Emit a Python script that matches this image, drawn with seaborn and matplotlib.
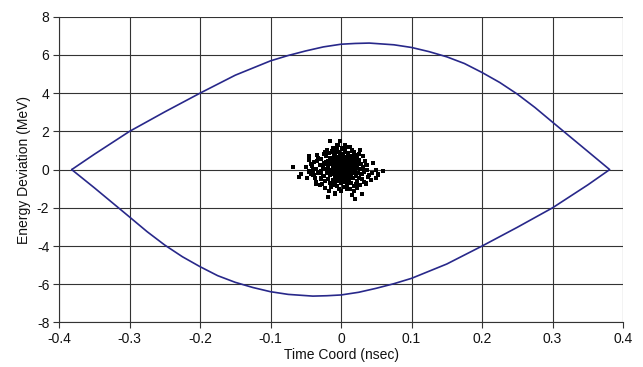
import numpy as np
import pandas as pd
import matplotlib
matplotlib.use("Agg")
import matplotlib.pyplot as plt
import seaborn as sns

# Separatrix (upper branch, left -> right)
top_t = [-0.382, -0.35, -0.3, -0.25, -0.2, -0.15, -0.1, -0.075, -0.05, -0.025, 0.0,
         0.02, 0.04, 0.075, 0.1, 0.125, 0.15, 0.175, 0.2, 0.225, 0.25, 0.275, 0.3, 0.35, 0.381]
top_E = [0.0, 0.8, 2.0, 3.02, 4.0, 4.94, 5.69, 5.97, 6.21, 6.42, 6.56,
         6.6, 6.62, 6.53, 6.39, 6.17, 5.9, 5.55, 5.08, 4.56, 3.95, 3.25, 2.48, 0.95, 0.0]
# Separatrix (lower branch, left -> right)
bot_t = [-0.382, -0.35, -0.3, -0.275, -0.25, -0.225, -0.2, -0.175, -0.15, -0.125, -0.1,
         -0.075, -0.04, -0.02, 0.0, 0.025, 0.05, 0.075, 0.1, 0.15, 0.2, 0.25, 0.3, 0.35, 0.381]
bot_E = [0.0, -0.95, -2.48, -3.25, -3.95, -4.56, -5.08, -5.55, -5.9, -6.17, -6.39,
         -6.53, -6.62, -6.6, -6.56, -6.42, -6.21, -5.97, -5.69, -4.94, -4.0, -3.02, -2.0, -0.8, 0.0]

# Particle bunch (time nsec, energy MeV)
part_t = [-0.068, -0.057, -0.050, -0.048, -0.046, -0.046, -0.039, -0.036, -0.034, -0.034,
          -0.030, -0.028, -0.023, -0.022, -0.019, -0.017, -0.016, -0.011, -0.010, -0.002,
          0.006, 0.018, 0.027, 0.031, 0.037, 0.044, 0.053, 0.060, 0.049, 0.040,
          0.032, 0.027, 0.023, 0.018, 0.030, 0.016, 0.020, 0.042, 0.035, -0.036,
          0.012, -0.005, 0.000, -0.008, 0.008, -0.042, 0.045, 0.050, -0.045, -0.060,
          -0.028, -0.026, -0.025, -0.024, -0.023, -0.022, -0.021, -0.020, -0.019, -0.018,
          -0.018, -0.017, -0.016, -0.016, -0.015, -0.015, -0.014, -0.013, -0.013, -0.012,
          -0.012, -0.011, -0.011, -0.010, -0.010, -0.009, -0.009, -0.008, -0.008, -0.008,
          -0.007, -0.007, -0.006, -0.006, -0.006, -0.005, -0.005, -0.005, -0.004, -0.004,
          -0.003, -0.003, -0.003, -0.002, -0.002, -0.002, -0.001, -0.001, -0.001, 0.000,
          0.000, 0.000, 0.001, 0.001, 0.001, 0.002, 0.002, 0.002, 0.003, 0.003,
          0.003, 0.004, 0.004, 0.004, 0.005, 0.005, 0.005, 0.006, 0.006, 0.006,
          0.007, 0.007, 0.008, 0.008, 0.008, 0.009, 0.009, 0.010, 0.010, 0.011,
          0.011, 0.012, 0.012, 0.013, 0.013, 0.014, 0.014, 0.015, 0.015, 0.016,
          0.016, 0.017, 0.018, 0.018, 0.019, 0.019, 0.020, 0.021, 0.021, 0.022,
          0.023, 0.023, 0.024, 0.025, 0.026, 0.027, 0.028, 0.029, 0.030, 0.031,
          0.033, 0.034, -0.030, -0.032, -0.033, -0.035, -0.037, -0.038, -0.040, -0.041,
          -0.043, -0.029, -0.027, -0.024, -0.020, -0.014, -0.003, 0.009, 0.013, 0.022,
          0.026, 0.036, 0.038, -0.014, -0.012, -0.010, -0.009, -0.007, -0.006, -0.004,
          -0.003, -0.002, -0.001, 0.000, 0.001, 0.002, 0.003, 0.004, 0.005, 0.006,
          0.007, 0.008, 0.009, 0.010, 0.011, 0.012, 0.013, 0.014, 0.015, -0.016,
          -0.011, -0.005, 0.000, 0.004, 0.010, 0.016, -0.019, -0.008, 0.002, 0.017,
          0.020, -0.021, 0.024]
part_E = [0.14, -0.21, 0.14, -0.44, 0.71, 0.49, -0.30, -0.65, 0.75, 0.45,
          -0.82, -0.47, -0.96, 0.89, -1.43, -1.14, 1.48, 1.10, -0.82, 1.50,
          1.27, 0.92, 1.01, 0.71, 0.00, -0.16, -0.26, -0.09, 0.00, -0.30,
          -0.65, -0.82, -0.96, -1.14, -1.26, -1.35, -1.52, -0.56, -0.73, -0.73,
          1.20, 1.30, -1.10, -1.25, -1.00, 0.30, 0.35, -0.45, -0.10, -0.40,
          0.55, 0.10, -0.35, 0.32, -0.60, 0.05, 0.70, -0.15, 0.45, -0.48,
          0.20, 0.85, -0.30, 0.00, 0.60, -0.72, 0.30, -0.10, 0.95, -0.55,
          0.15, 0.50, -0.25, 0.72, -0.05, 0.35, -0.40, 0.10, 0.85, -0.65,
          0.55, -0.18, 0.25, 1.05, -0.85, -0.02, 0.65, -0.45, 0.40, -0.28,
          0.12, 0.90, -0.60, 0.50, -0.10, 0.28, -0.35, 0.75, 0.05, -0.70,
          0.38, -0.20, 0.60, 0.15, -0.50, 1.10, -0.05, 0.45, -0.30, 0.22,
          0.80, -0.90, 0.02, 0.55, -0.42, 0.32, -0.15, 0.95, 0.10, -0.62,
          0.42, -0.25, 0.68, 0.00, -0.78, 0.25, -0.40, 0.85, -0.10, 0.50,
          -0.55, 0.15, -0.30, 0.70, -0.05, 0.35, -0.68, 1.00, -0.20, 0.55,
          0.05, -0.45, 0.28, -0.85, 0.75, -0.12, 0.40, -0.35, 0.10, 0.62,
          -0.60, 0.20, -0.18, 0.48, -0.42, 0.05, 0.30, -0.25, -0.50, 0.15,
          -0.10, 0.45, 0.25, -0.15, 0.60, 0.05, -0.45, 0.40, -0.05, 0.20,
          -0.25, -0.10, -0.75, 0.80, 1.00, -0.90, -1.00, 1.20, -1.00, -0.75,
          0.80, 0.25, -0.40, 0.42, 0.05, 0.28, -0.15, 0.62, -0.32, 0.18,
          -0.22, 0.68, 0.35, 0.05, -0.28, 0.20, 0.58, -0.12, 0.42, -0.38,
          0.15, 0.48, -0.05, 0.30, -0.22, 0.60, 0.25, -0.35, 0.12, 0.35,
          -0.08, 0.48, 0.65, 0.30, 0.08, 0.30, -0.05, -0.28, -0.40, 0.62,
          -0.05, 0.38, 0.35]

x_ticks = [-0.4, -0.3, -0.2, -0.1, 0, 0.1, 0.2, 0.3, 0.4]
x_ticklabels = ["-0.4", "-0.3", "-0.2", "-0.1", "0", "0.1", "0.2", "0.3", "0.4"]
y_ticks = [-8, -6, -4, -2, 0, 2, 4, 6, 8]
y_ticklabels = [str(v) for v in y_ticks]

sep = pd.DataFrame({
    "t": top_t + bot_t[::-1],
    "E": top_E + bot_E[::-1],
})
bunch = pd.DataFrame({"t": part_t, "E": part_E})

sns.set_theme(style="white")
plt.rcParams["font.family"] = ["Liberation Sans", "DejaVu Sans"]

fig = plt.figure(figsize=(6.43, 3.67), dpi=100)
ax = fig.add_axes([0.0918, 0.1213, 0.8772, 0.8332])

sns.lineplot(data=sep, x="t", y="E", sort=False, estimator=None,
             color="#28288a", linewidth=1.2, ax=ax)
sns.scatterplot(data=bunch, x="t", y="E", marker="s", s=9, color="black",
                edgecolor="none", linewidth=0, ax=ax)

ax.set_xlim(-0.4, 0.4)
ax.set_ylim(-8, 8)
ax.set_xticks(x_ticks)
ax.set_xticklabels(x_ticklabels)
ax.set_yticks(y_ticks)
ax.set_yticklabels(y_ticklabels)
ax.grid(True, color="#333333", linewidth=0.8)
ax.set_axisbelow(True)
for side in ["top", "right"]:
    ax.spines[side].set_visible(False)
for side in ["left", "bottom"]:
    ax.spines[side].set_color("#333333")
    ax.spines[side].set_linewidth(0.8)
ax.tick_params(axis="both", which="both", direction="out", length=4, width=0.8,
               color="#333333", labelsize=10, labelcolor="#111111", pad=3,
               left=True, bottom=True)
ax.set_xlabel("Time Coord (nsec)", fontsize=10, color="#111111", labelpad=1)
ax.set_ylabel("Energy Deviation (MeV)", fontsize=10, color="#111111", labelpad=4)

fig.savefig("out.png", dpi=100, facecolor="white")
